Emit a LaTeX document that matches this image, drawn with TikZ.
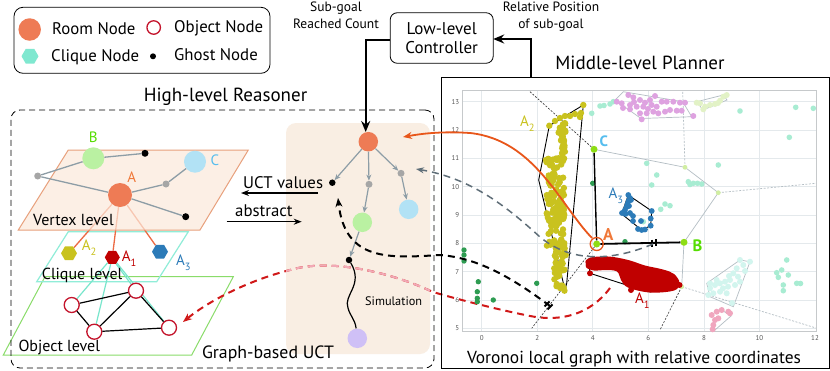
\documentclass[tikz,border=0pt]{standalone}
\usepackage{fontspec}
\setmainfont{PT Sans}
\usetikzlibrary{arrows.meta,shapes.geometric,calc}
\pgfdeclarelayer{bgl}\pgfdeclarelayer{back}\pgfdeclarelayer{mid}
\pgfsetlayers{bgl,back,mid,main}
\definecolor{roomc}{HTML}{EE7B55}
\definecolor{objc}{HTML}{C4142C}
\definecolor{cliqc}{HTML}{80E8D0}
\definecolor{vfill}{HTML}{FCEADC}
\definecolor{vdraw}{HTML}{E8A07C}
\definecolor{cdraw}{HTML}{90EDD8}
\definecolor{odraw}{HTML}{8ADC6A}
\definecolor{treebg}{HTML}{F9EEE3}
\definecolor{edgeg}{HTML}{8D9DA6}
\definecolor{ghostg}{HTML}{A6A6A6}
\definecolor{lblue}{HTML}{B2E2F5}
\definecolor{lgreen}{HTML}{BAF1A2}
\definecolor{lpurple}{HTML}{CFC0F6}
\definecolor{labB}{HTML}{55DD00}
\definecolor{labC}{HTML}{55BDEE}
\definecolor{labA}{HTML}{F07838}
\definecolor{a2c}{HTML}{C9C21E}
\definecolor{a1c}{HTML}{C00000}
\definecolor{a3c}{HTML}{2C7BB8}
\definecolor{hexline}{HTML}{EC6A44}
\definecolor{cyanl}{HTML}{78E6CC}
\definecolor{orangearr}{HTML}{E8561A}
\definecolor{grayarr}{HTML}{5F6E78}
\definecolor{reddash}{HTML}{D01818}
\definecolor{pinkdash}{HTML}{F2A9B6}
\definecolor{gridc}{HTML}{E4E9EC}
\definecolor{dgreen}{HTML}{2E9C52}
\definecolor{limec}{HTML}{8EDD14}
\definecolor{paleaq}{HTML}{A8ECD2}
\definecolor{violetc}{HTML}{DEA2E0}
\definecolor{paleyg}{HTML}{E2F2C6}
\definecolor{palecy}{HTML}{D2F5EE}
\definecolor{pinkc}{HTML}{F0A6BE}
\definecolor{vorg}{HTML}{B4BEC4}
\definecolor{tickc}{HTML}{555555}
\begin{document}
\begin{tikzpicture}[x=1pt,y=-1pt,
  txt/.style={inner sep=0pt, anchor=base west, font=\fontsize{16.8}{19}\selectfont},
  plane/.style={inner sep=0pt, anchor=base west, font=\fontsize{16}{19}\selectfont},
  ttl/.style={inner sep=0pt, anchor=base, font=\fontsize{19}{22}\selectfont},
  smalltxt/.style={inner sep=0pt, anchor=base, font=\fontsize{13.5}{15}\selectfont},
  dot/.style={circle, inner sep=0pt, minimum size=#1},
  room/.style={dot=22, fill=roomc},
  ghost/.style={dot=7, fill=black},
  gghost/.style={dot=7, fill=ghostg},
  objn/.style={circle, inner sep=0pt, minimum size=15, draw=objc, line width=1.3pt, fill=white},
  hexn/.style={regular polygon, regular polygon sides=6, inner sep=0pt, minimum size=16},
  vedge/.style={edgeg, line width=1.3pt},
  tedge/.style={edgeg, line width=1.2pt, -{Stealth[length=6pt,width=5pt]}},
  lab/.style={inner sep=0pt, anchor=base, font=\fontsize{15}{17}\selectfont},
  blab/.style={inner sep=0pt, anchor=base west, font=\bfseries\fontsize{15}{17}\selectfont},
  sub/.style={inner sep=0pt, anchor=base west, font=\fontsize{15}{17}\selectfont},
  tick/.style={inner sep=0pt, font=\fontsize{7}{8}\selectfont, text=tickc},
  thickarr/.style={line width=2.2pt, -{Stealth[length=11pt,width=9pt]}},
  reddashed/.style={line width=2pt, dash pattern=on 7pt off 5pt},
]
\useasboundingbox (0,0) rectangle (830,370);
\begin{pgfonlayer}{bgl}
\fill[white] (0,0) rectangle (830,370);
\end{pgfonlayer}

% ---------------- Legend ----------------
\node[draw, line width=0.8pt, rounded corners=9pt, minimum width=256, minimum height=66, inner sep=0] (legend) at (142,40.3) {};
\node[room, dot=22.5] (lroom) at (29.7,29.5) {};
\node[txt] (lroomt) at (52,34.3) {Room Node};
\node[objn, minimum size=13.5] (lobj) at (153.7,27.5) {};
\node[txt] (lobjt) at (174,32.3) {Object Node};
\node[hexn, fill=cliqc, minimum size=17] (lcliq) at (30,56.2) {};
\node[txt] (lcliqt) at (51,61.3) {Clique Node};
\node[dot=6, fill=black] (lghost) at (153,56.3) {};
\node[txt] (lghostt) at (174,60.3) {Ghost Node};

% ---------------- High-level reasoner ----------------
\node[ttl] (hltitle) at (225.5,101) {High-level Reasoner};
\node[draw, dashed, dash pattern=on 6pt off 4pt, line width=0.8pt, rounded corners=9pt, minimum width=423, minimum height=258, inner sep=0] (hlbox) at (222.5,239) {};

% planes
\begin{pgfonlayer}{back}
\draw[odraw, line width=1pt] (45,276.7) -- (233.3,276.7) -- (191.7,355) -- (3.3,355) -- cycle;
\draw[cdraw, line width=1.2pt] (68.3,231.7) -- (188.3,231.7) -- (156.7,281.7) -- (36.7,281.7) -- cycle;
\end{pgfonlayer}
\begin{pgfonlayer}{mid}
\draw[vdraw, line width=1pt, fill=vfill, fill opacity=0.72] (68.3,150) -- (248.3,150) -- (200,230) -- (18.3,230) -- cycle;
\end{pgfonlayer}
\node[plane] (vlevel) at (33,225) {Vertex level};
\node[plane] (clevel) at (41.7,279.3) {Clique level};
\node[plane] (olevel) at (18.3,351.7) {Object level};

% vertex level graph
\node[dot=22, fill=lgreen] (vB) at (93.3,158.3) {};
\node[ghost] (vg1) at (145,153.3) {};
\node[dot=22, fill=lblue] (vC) at (195,161.7) {};
\node[gghost] (vg2) at (37.7,176) {};
\node[room, dot=24] (vA) at (120,195) {};
\node[gghost] (vg3) at (166,184) {};
\node[ghost] (vg4) at (185.7,216.7) {};
\draw[vedge] (vB) -- (vg1);
\draw[vedge] (vB) -- (vg2);
\draw[vedge] (vg2) -- (vA);
\draw[vedge] (vA) -- (vg4);
\draw[vedge] (vA) -- (vg3);
\draw[vedge] (vg3) -- (vC);
\node[lab, text=labB] (lB) at (93.3,142) {B};
\node[lab, text=labA] (lA) at (131.7,182.5) {A};
\node[lab, text=labC] (lC) at (215,165.5) {C};

% clique level
\node[hexn, fill=a2c] (hA2) at (69,253.3) {};
\node[hexn, fill=a1c, minimum size=15] (hA1) at (112.3,257.3) {};
\node[hexn, fill=a3c] (hA3) at (160,251.7) {};
\begin{pgfonlayer}{back}
\draw[hexline, line width=1.3pt] (vA) -- (hA2);
\draw[hexline, line width=1.3pt] (vA) -- (hA1);
\draw[hexline, line width=1.3pt] (vA) -- (hA3);
\end{pgfonlayer}
\node[sub, text=a2c] (lA2) at (81.7,250) {A\raisebox{-5pt}{\fontsize{10.5}{10}\selectfont 2}};
\node[sub, text=a1c] (lA1) at (121.7,261.7) {A\raisebox{-5pt}{\fontsize{10.5}{10}\selectfont 1}};
\node[sub, text=a3c] (lA3) at (176,265) {A\raisebox{-5pt}{\fontsize{10.5}{10}\selectfont 3}};

% object level
\node[objn] (o1) at (71.7,305) {};
\node[objn] (o2) at (136,290.7) {};
\node[objn] (o3) at (94.3,331.7) {};
\node[objn] (o4) at (169,327.7) {};
\begin{pgfonlayer}{mid}
\draw[cyanl, line width=1.2pt] (hA1) -- (o1);
\draw[cyanl, line width=1.2pt] (hA1) -- (o3);
\draw[cyanl, line width=1.2pt] (hA1.-60) -- (o2);
\draw[cyanl, line width=1.2pt] (hA1) -- (o4);
\end{pgfonlayer}
\draw[black, line width=1.2pt] (o1) -- (o2);
\draw[black, line width=1.2pt] (o1) -- (o3);
\draw[black, line width=1.2pt] (o2) -- (o3);
\draw[black, line width=1.2pt] (o2) -- (o4);
\draw[black, line width=1.2pt] (o3) -- (o4);

% arrows between panels
\draw[black, line width=1.2pt, -{Stealth[length=8pt,width=6pt]}] (318,193) coordinate (uctS) -- (241,193) coordinate (uctE);
\node[txt] (ucttxt) at (243,188.3) {UCT values};
\draw[black, line width=1.2pt, -{Stealth[length=8pt,width=6pt]}] (226.7,221.7) coordinate (absS) -- (301.7,221.7) coordinate (absE);
\node[txt] (abstxt) at (235,216.7) {abstract};
\node[ttl, font=\fontsize{17.8}{20}\selectfont] (gbuct) at (268,358.8) {Graph-based UCT};

% ---------------- Tree panel ----------------
\begin{pgfonlayer}{mid}
\node[fill=treebg, rounded corners=10pt, minimum width=144, minimum height=231, inner sep=0] (panel) at (358,238.5) {};
\end{pgfonlayer}

% red dashed arrow (pink where it crosses the tree panel)
\coordinate (rdS) at (610,288);
\coordinate (rdE) at (183,322);
\draw[reddash, reddashed, -{Stealth[length=9pt,width=7pt]}] (rdS) .. controls (590,315) and (560,322) .. (530,316) .. controls (500,310) and (460,300) .. (433,292) .. controls (390,272) and (330,258) .. (290,270) .. controls (250,280) and (210,300) .. (rdE);
\begin{scope}
\clip[rounded corners=10pt] (panel.south west) rectangle (panel.north east);
\draw[pinkdash, reddashed] (rdS) .. controls (590,315) and (560,322) .. (530,316) .. controls (500,310) and (460,300) .. (433,292) .. controls (390,272) and (330,258) .. (290,270) .. controls (250,280) and (210,300) .. (rdE);
\end{scope}

\node[room, dot=19.5] (troot) at (368.3,141.7) {};
\node[dot=6.5, fill=black] (tg1) at (332.3,182.7) {};
\node[dot=7, fill=ghostg] (tg2) at (369,184.3) {};
\node[dot=7, fill=ghostg] (tg3) at (401,173.3) {};
\node[dot=19.5, fill=lblue] (tlb) at (408.7,209.3) {};
\node[dot=19.5, fill=lgreen] (tgn) at (362.3,222.3) {};
\node[dot=6.5, fill=black] (tg4) at (349,260) {};
\node[dot=19.5, fill=lpurple] (tpu) at (357.3,338.3) {};
\draw[tedge] (troot) -- (tg1);
\draw[tedge] (troot) -- (tg2);
\draw[tedge] (troot) -- (tg3);
\draw[tedge] (tg3) -- (tlb);
\draw[tedge] (tg2) -- (tgn);
\draw[tedge] (tgn) -- (tg4);
\draw[black, line width=1.2pt] (tg4) .. controls (364,285) and (343,295) .. (348,308) .. controls (350,316) and (355,319) .. (tpu);
\node[inner sep=0pt, anchor=base west, font=\fontsize{12.3}{14}\selectfont] (simtxt) at (365,305.7) {Simulation};

% ---------------- Low-level controller ----------------
\node[draw, line width=0.8pt, rounded corners=7pt, minimum width=103, minimum height=50.5, inner sep=0, align=center, font=\fontsize{17}{18.3}\selectfont] (ctrl) at (441.7,38) {Low-level\\Controller};
\node[smalltxt] (sg1) at (336,11.7) {Sub-goal};
\node[smalltxt] (sg2) at (336,28.3) {Reached Count};
\node[smalltxt] (rp1) at (551,11.7) {Relative Position};
\node[smalltxt] (rp2) at (551,28.3) {of sub-goal};
\coordinate (ctrlL) at (390.2,40);
\coordinate (rootT) at (365.7,132);
\draw[thickarr] (ctrlL) -| (rootT);
\coordinate (planT) at (530.7,77);
\coordinate (ctrlR) at (493.2,39);
\draw[thickarr] (planT) |- (ctrlR);

% ---------------- Middle-level planner ----------------
\node[ttl] (mltitle) at (640,69.3) {Middle-level Planner};
\node[draw, line width=1pt, minimum width=388, minimum height=291, inner sep=0] (mlframe) at (635.5,222.5) {};
\node[ttl, font=\fontsize{17.4}{20}\selectfont] (vortitle) at (634,363.3) {Voronoi local graph with relative coordinates};

% grid
\begin{pgfonlayer}{back}
\foreach \gx in {481.7,537.2,592.8,648.3,703.9,759.4} \draw[gridc, line width=0.8pt] (\gx,90.7) -- (\gx,331);
\foreach \gy in {101.65,130,158.3,186.7,215,243.3,271.6,300,328.3} \draw[gridc, line width=0.8pt] (462.7,\gy) -- (816,\gy);
\draw[gridc!70!gray, line width=0.8pt] (462.7,90.7) rectangle (816,331);
\end{pgfonlayer}
\foreach \gx/\lab in {481.7/0,537.2/2,592.8/4,648.3/6,703.9/8,759.4/10,815/12} \node[tick, anchor=base] at (\gx,340.5) {\lab};
\foreach \gy/\lab in {101.65/13,130/12,158.3/11,186.7/10,215/9,243.3/8,271.6/7,300/6,328.3/5} \node[tick, anchor=east] at (459.5,\gy) {\lab};

% voronoi lines
\draw[vorg, line width=0.7pt] (594,149.3) -- (685,167.3) -- (718.3,192.7) -- (684,242.3) -- (681.7,286.7);
\draw[vorg, line width=0.7pt, dash pattern=on 2pt off 1.5pt] (685,167.3) -- (682.7,91.7);
\draw[vorg, line width=0.7pt, dash pattern=on 2pt off 1.5pt] (718.3,192.7) -- (816,183.3);
\draw[vorg, line width=0.7pt, dash pattern=on 2pt off 1.5pt] (681.7,286.7) -- (816,328);
\draw[black!80, line width=0.6pt, dash pattern=on 2pt off 1.5pt] (530,91.7) -- (594,149.3);
\draw[black!80, line width=0.6pt, dash pattern=on 2pt off 1.5pt] (596.7,244) -- (531.7,328.3);
\draw[black!80, line width=0.6pt, dash pattern=on 2pt off 1.5pt] (681.7,286.7) -- (660,330);

% pale aquamarine points
\foreach \p in {(591.7,113.3),(600,106),(604,105.5),(610,104),(613.3,101.7),(740,111),(795.7,107.3),(813.3,108.3),(789.3,137.3),(718.3,165),(646.7,163.3),(656.7,175),(651.7,185),(665,204),(670,205.7),(660.7,209.3),(688.3,181.7),(693.3,183.3),(697.5,183.3),(701.7,184),(690,184.5),(786.7,260),(781.7,270),(776.7,272.7),(778.3,277.3),(788.3,275),(783.3,285),(783.3,290.7),(796.7,283.3),(800.5,283.5),(643.3,221.7)}
  \fill[paleaq] \p circle[radius=2.8];
% violet cluster
\draw[vorg, line width=0.7pt] (615,100) -- (623.3,91.7) -- (682.7,101.7) -- (691.7,116.7) -- (641,118.5) -- cycle;
\foreach \p in {(616.7,101.7),(621.7,103.3),(628.3,95),(633.3,97.3),(640,100),(645,102.7),(650,100),(655,96),(630,105),(636.7,106.7),(643.3,106.7),(651.7,105),(656.7,106.7),(661.7,101.7),(666.7,101.7),(673.3,101.7),(680,102.7),(685,102.7),(640,113.3),(646.7,113.3),(653.3,111.7),(658.3,113.3),(665,111.7),(670,110),(676.7,110.7),(681.7,110.7),(641.7,119.3),(693.3,116),(630,109.3),(634,102),(623,108),(648,109)}
  \fill[violetc] \p circle[radius=3];
% pale yellow-green cluster
\draw[vorg, line width=0.7pt] (696.7,101.7) -- (723.3,95) -- (727,100) -- (703,110) -- cycle;
\foreach \p in {(700,103.3),(705,106.7),(710,105),(715,104),(720,100.7),(723.3,96.7),(726.7,95),(696.7,102.7),(703.3,109.3),(718,103)}
  \fill[paleyg] \p circle[radius=3];
% pale cyan cluster
\draw[vorg, line width=0.7pt] (706.7,283.3) -- (740,260) -- (750,261.7) -- (733.3,306.7) -- (710,296.7) -- cycle;
\foreach \p in {(740,260),(750,261.7),(743.3,265),(736.7,268.3),(733.3,273.3),(738,276.7),(730,280),(725,281.7),(720,283.3),(715,285),(710,288.3),(713.3,293.3),(708.3,295),(723,288.3),(728,286.7),(740,281.7),(735,285),(726.7,293.3),(720,291.7),(716.7,280),(710,283.3),(732,303),(745,271),(729,276)}
  \fill[palecy] \p circle[radius=3];
% pink bottom cluster
\draw[vorg, line width=0.7pt] (721.7,310) -- (731,316) -- (715,330);
\foreach \p in {(711.7,315),(716.7,311.7),(721.7,310),(728.3,311.7),(730,313.3),(715,320),(713.3,325),(712.7,329.3),(718.3,318.3)}
  \fill[pinkc] \p circle[radius=3];
% voronoi vertices
\foreach \p in {(685,167.3),(718.3,192.7),(681.7,286.7)} \fill[paleyg!80!limec] \p circle[radius=2.4];

% A2 cluster
\draw[black, line width=0.9pt] (549.3,125.7) -- (583.3,105) -- (566.7,283.3) -- (565,290) -- (538.7,180) -- cycle;
\pgfmathsetseed{11}
\foreach \i in {1,...,35} \fill[a2c] ({562+3.5*rand},{122+38*rnd}) circle[radius=3.2];
\foreach \i in {1,...,120} \fill[a2c] ({555.5+9*rand},{158+88*rnd}) circle[radius=3.2];
\foreach \i in {1,...,45} \fill[a2c] ({560+6*rand},{245+46*rnd}) circle[radius=3.2];
\foreach \p in {(549.3,125.7),(555,121),(560,118),(565,116),(570,116),(575,114),(580,117),(583.3,105),(581,113),(546,160),(551,161),(563,161)}
  \fill[a2c] \p circle[radius=3.2];
\node[sub, text=a2c] (pA2) at (520,126.7) {A\raisebox{-5pt}{\fontsize{10.5}{10}\selectfont 2}};

% A1 cluster
\draw[black, line width=0.9pt] (588.3,259) -- (660,271.7) -- (680,285) -- (650,292) -- (623.3,284) -- (590,273.3) -- cycle;
\fill[a1c] plot[smooth cycle, tension=0.6] coordinates {(588.5,258.5) (600,256.5) (613.3,257) (630,260.5) (645,265.5) (663,269.5) (674,274) (679.5,283) (674,290.5) (650,292.5) (628,287.5) (621,280) (617,271.5) (605,270) (594,270.5) (586,267)};
\foreach \p in {(590,273.3),(588.3,262),(679.5,285),(631,290)}
  \fill[a1c] \p circle[radius=3];
\node[sub, text=a1c] (pA1) at (635,303.3) {A\raisebox{-5pt}{\fontsize{10.5}{10}\selectfont 1}};

% A3 cluster
\draw[black, line width=0.9pt] (628.3,195) -- (651.7,211) -- (650.7,225.7) -- (641.7,230) -- (621.7,214) -- cycle;
\foreach \p in {(628.3,195),(630,198),(628.5,201),(627.5,204),(626.5,207),(625,210),(622,213),(625.5,214),(630,213),(629,206),(631,200),(633,216),(633,221),(641,221),(650.7,225.7),(651.7,211),(641.7,230),(638,229),(645,229.5),(650.7,218.5)}
  \fill[a3c] \p circle[radius=2.9];
\node[sub, text=a3c] (pA3) at (608.5,198.5) {A\raisebox{-5pt}{\fontsize{10.5}{10}\selectfont 3}};

% dark green points
\foreach \p in {(625,241.7),(592.7,183.3),(536.7,283.3),(478.3,281.7),(477.3,291.7),(477.3,298.3),(477.3,301.7),(493.3,300),(464,250),(464,255),(464,261)}
  \fill[dgreen] \p circle[radius=2.7];

% local graph A-B-C
\node[dot=7, fill=limec] (pA) at (596.7,244) {};
\node[dot=7, fill=limec] (pB) at (684,242.3) {};
\node[dot=7, fill=limec] (pC) at (594,149.3) {};
\draw[black, line width=1.4pt] (pA) -- (pC);
\draw[black, line width=1.8pt] (pA) -- (pB);
\draw[black, line width=1.8pt] (651.7,239.5) -- (651.7,246.5) (655.7,239.3) -- (655.7,246.3);
\node[circle, draw=orangearr, line width=1.3pt, minimum size=13, inner sep=0] (ringA) at (pA) {};
\node[blab, text=labC] (plC) at (599.5,146.5) {C};
\node[blab, text=labA, font=\bfseries\fontsize{17}{18}\selectfont] (plA) at (603,240) {A};
\node[blab, text=labB, font=\bfseries\fontsize{16.5}{18}\selectfont] (plB) at (692.5,251.7) {B};

% ---------------- Cross-panel arrows ----------------
\coordinate (bdS) at (550,306);
\coordinate (bdE) at (338,198);
\draw[black, line width=2pt, dash pattern=on 7pt off 5pt, -{Stealth[length=9pt,width=7pt]}] (bdS) .. controls (515,280) and (480,258) .. (440,255) .. controls (390,258) and (345,262) .. (bdE);
\draw[black, line width=1.8pt] (544.5,306.5) -- (549.5,301.5) (547.5,309.5) -- (552.5,304.5);
\coordinate (gdS) at (653,244);
\coordinate (gdE) at (416,169);
\draw[grayarr, line width=1.5pt, dash pattern=on 7pt off 5pt, -{Stealth[length=8pt,width=6pt]}] (gdS) .. controls (610,262) and (570,262) .. (540,237) .. controls (505,205) and (470,178) .. (gdE);
\coordinate (orS) at (592,238);
\coordinate (orE) at (403,137);
\draw[orangearr, line width=1.8pt, -{Stealth[length=9pt,width=7pt]}] (orS) .. controls (560,205) and (535,140) .. (470,133) .. controls (440,131) and (420,134) .. (orE);
\end{tikzpicture}
\end{document}
